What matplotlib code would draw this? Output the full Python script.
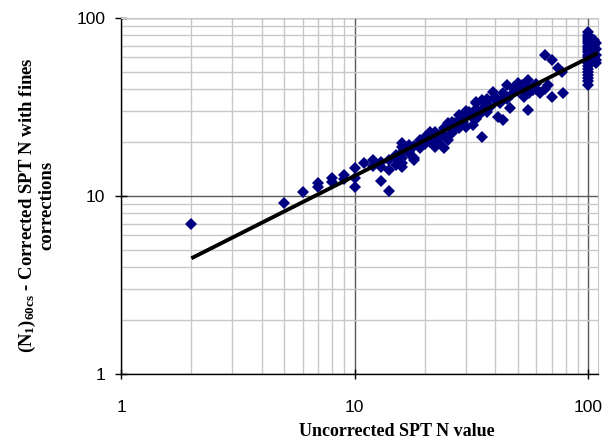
import numpy as np
import matplotlib
matplotlib.use("Agg")
import matplotlib.pyplot as plt
from matplotlib.ticker import LogLocator, NullFormatter, FixedLocator, FixedFormatter

plt.rcParams['mathtext.fontset'] = 'custom'
plt.rcParams['mathtext.rm'] = 'Liberation Serif:bold'
plt.rcParams['mathtext.bf'] = 'Liberation Serif:bold'
plt.rcParams['mathtext.it'] = 'Liberation Serif:bold'

# ---- data ----
spt_n = [2, 5, 6, 7, 7, 8, 8, 9, 9, 10, 10, 10, 11, 12, 13, 13, 14, 14, 14,
         15, 15, 15, 16, 16, 16, 16, 16, 16, 17, 17, 18, 18, 19, 19, 19, 20,
         21, 22, 22, 23, 23, 23, 24, 25, 25, 26, 26, 26, 27, 28, 29, 29, 30,
         32, 32, 33, 33, 34, 35, 35, 37, 38, 39, 40, 41, 42, 43, 45, 46, 48,
         50, 52, 52, 55, 55, 56, 58, 62, 65, 67, 70, 70, 74, 77, 78,
         20, 21, 24, 27, 28, 30, 31, 33, 36, 44, 47, 50, 53, 60,
         12, 13, 17, 18, 20, 22, 24, 26, 28, 30, 33, 35, 37, 40, 43, 45, 48,
         55, 60, 65,
         100, 100, 100, 100, 100, 100, 100, 100, 100, 100, 100, 100, 100, 100,
         100, 100, 100, 100, 100, 100, 100,
         106, 106, 106, 106, 108, 108, 108, 108, 108]
n160cs = [7.0, 9.1, 10.5, 11.3, 11.8, 12.0, 12.7, 12.5, 13.1, 14.4, 12.6, 11.2,
          15.3, 15.9, 12.1, 14.5, 10.7, 14.0, 15.9, 16.4, 14.9, 17.0, 17.6,
          15.3, 18.8, 19.8, 16.4, 14.5, 19.3, 17.4, 16.4, 15.9, 20.6, 19.4,
          18.6, 20.2, 22.9, 18.9, 20.6, 21.1, 19.8, 21.9, 18.6, 20.6, 25.8,
          24.0, 22.6, 23.5, 25.8, 28.6, 28.6, 26.0, 24.3, 27.6, 25.1, 33.2,
          33.7, 28.6, 34.5, 21.5, 29.6, 31.6, 38.4, 34.5, 27.9, 33.2, 26.8,
          42.0, 31.2, 41.0, 43.2, 42.0, 40.6, 44.8, 30.3, 38.0, 39.4, 37.9,
          62.0, 42.0, 58.0, 36.0, 52.5, 50.0, 38.0,
          19.5, 20.0, 22.0, 24.5, 26.5, 28.0, 29.5, 31.0, 32.0, 36.0, 37.5,
          39.0, 36.0, 40.0,
          14.8, 15.5, 18.0, 19.0, 21.5, 23.0, 24.0, 26.0, 24.0, 30.0, 27.0,
          30.0, 35.0, 36.0, 38.0, 35.0, 40.0, 41.0, 42.5, 40.0,
          83, 80, 78, 76, 74, 72, 70, 68, 66, 64, 62, 60, 58, 56, 54, 52, 50,
          48, 46, 44, 42,
          75, 70, 65, 60, 72, 67, 62, 58, 56]

# power-law trendline y = a * x^b
trend_a = 2.82
trend_b = 0.663
trend_range = [2, 110]

x_ticks = [1, 10, 100]
y_ticks = [1, 10, 100]

# ---- figure ----
fig = plt.figure(figsize=(6.13, 4.40), dpi=100)
ax = fig.add_axes([121/613, 1-374/440, (598-121)/613, (374-18)/440])

ax.set_xscale('log')
ax.set_yscale('log')
ax.set_xlim(1, 110)
ax.set_ylim(1, 100)

# grid
ax.xaxis.set_minor_locator(LogLocator(base=10, subs=np.arange(2, 10)))
ax.yaxis.set_minor_locator(LogLocator(base=10, subs=np.arange(2, 10)))
ax.xaxis.set_minor_formatter(NullFormatter())
ax.yaxis.set_minor_formatter(NullFormatter())
ax.grid(which='minor', color='#c8c8c8', lw=1.0, zorder=0)
ax.grid(which='major', color='#5a5a5a', lw=1.0, zorder=0)
ax.set_axisbelow(True)

ax.xaxis.set_major_locator(FixedLocator(x_ticks))
ax.xaxis.set_major_formatter(FixedFormatter([str(t) for t in x_ticks]))
ax.yaxis.set_major_locator(FixedLocator(y_ticks))
ax.yaxis.set_major_formatter(FixedFormatter([str(t) for t in y_ticks]))

ax.tick_params(which='minor', length=0)
ax.tick_params(axis='x', which='major', direction='inout', length=7.5, width=1,
               pad=15, labelsize=12.5, color='black')
ax.tick_params(axis='y', which='major', direction='inout', length=8.5, width=1,
               pad=7, labelsize=12.5, color='black')
for lab in ax.get_xticklabels() + ax.get_yticklabels():
    lab.set_fontfamily('Liberation Sans')

for s in ['top', 'right']:
    ax.spines[s].set_color('#c8c8c8')
for s in ['left', 'bottom']:
    ax.spines[s].set_color('black')
    ax.spines[s].set_linewidth(1.0)

# data
ax.plot(spt_n, n160cs, linestyle='none', marker='D', markersize=5.9,
        color='#000080', markeredgewidth=0, zorder=3, clip_on=False)

xt = np.logspace(np.log10(trend_range[0]), np.log10(trend_range[1]), 100)
ax.plot(xt, trend_a * xt ** trend_b, color='black', lw=2.8, zorder=4,
        solid_capstyle='butt')

# labels
fig.text(397/613, 1-423/440, 'Uncorrected SPT N value', ha='center', va='top',
         fontsize=13, fontweight='bold', fontfamily='Liberation Serif')
fig.text(36/613, 1-205/440,
         r'$(\mathrm{N}_{\mathrm{1}})_{\mathrm{60cs}}$' + ' - Corrected SPT N with fines\ncorrections',
         ha='center', va='center', rotation=90, fontsize=13.5,
         fontweight='bold', fontfamily='Liberation Serif', linespacing=1.05,
         multialignment='center')

fig.savefig('out.png', dpi=100)
